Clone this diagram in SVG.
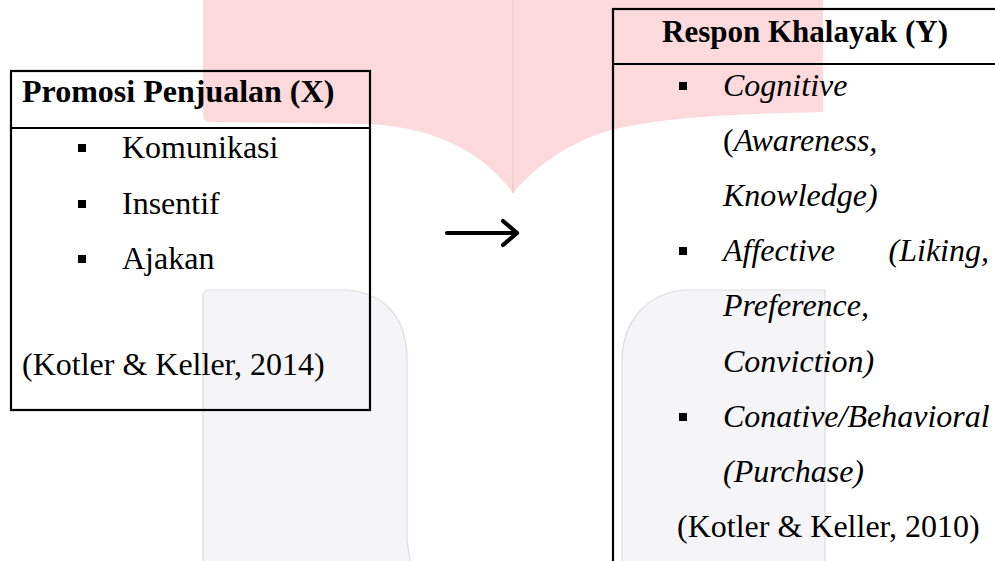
<svg xmlns="http://www.w3.org/2000/svg" width="995" height="561" viewBox="0 0 995 561">
<style>
  .box{fill:none;stroke:#000;stroke-width:2.2}
  .t{font-family:"Liberation Serif","Times New Roman",serif;font-size:32px;fill:#000}
  .b{font-weight:bold}
  .i{font-style:italic}
  .bul{fill:#000}
  .pink{fill:#fcd9da}
  .gray{fill:#f5f5f7;stroke:#dcdcdc;stroke-width:1.2}
  .conn{fill:none;stroke:#000;stroke-width:4.2;stroke-linecap:round}
</style>
<defs>
  <marker id="arr" markerUnits="userSpaceOnUse" markerWidth="22" markerHeight="30" refX="16" refY="14" orient="auto">
    <path d="M2,2 L16,14 L2,26" fill="none" stroke="#000" stroke-width="4.2" stroke-linecap="round" stroke-linejoin="round"/>
  </marker>
</defs>
<rect width="995" height="561" fill="#fff"/>
<g id="watermark">
  <path class="pink" d="M203,0 H823 V112 C740,114 680,116 630,126 C590,132 545,155 513,193 C485,155 440,128 370,124 L211,122 Q203,122 203,114 Z"/>
  <line x1="513" y1="0" x2="513" y2="193" stroke="#e9c6c8" stroke-width="1.2"/>
  <path class="gray" d="M203,561 V296 Q203,290 209,290 H340 C385,290 407,318 407,360 V540 L410,561"/>
  <path class="gray" d="M825,561 V290 H692 C648,290 622,320 622,362 V561"/>
</g>
<g id="node-x">
  <rect class="box" x="11" y="71" width="359" height="339"/>
  <line class="box" x1="11" y1="128" x2="370" y2="128"/>
  <text class="t b" x="22" y="102">Promosi Penjualan (X)</text>
  <rect class="bul" x="78" y="144" width="8" height="8"/>
  <text class="t" x="122" y="158">Komunikasi</text>
  <rect class="bul" x="78" y="200" width="8" height="8"/>
  <text class="t" x="122" y="214">Insentif</text>
  <rect class="bul" x="78" y="255" width="8" height="8"/>
  <text class="t" x="122" y="269">Ajakan</text>
  <text class="t" x="22" y="375">(Kotler &amp; Keller, 2014)</text>
</g>
<g id="node-y">
  <rect class="box" x="613" y="9" width="400" height="600"/>
  <line class="box" x1="613" y1="64" x2="1000" y2="64"/>
  <text class="t b" x="662" y="42" textLength="286" lengthAdjust="spacingAndGlyphs">Respon Khalayak (Y)</text>
  <rect class="bul" x="679" y="82" width="8" height="8"/>
  <text class="t i" x="723" y="96">Cognitive</text>
  <text class="t" x="723" y="151">(<tspan class="i">Awareness,</tspan></text>
  <text class="t i" x="723" y="206">Knowledge)</text>
  <rect class="bul" x="679" y="247" width="8" height="8"/>
  <text class="t i" x="723" y="261">Affective</text>
  <text class="t i" x="989" y="261" text-anchor="end">(Liking,</text>
  <text class="t i" x="723" y="316">Preference,</text>
  <text class="t i" x="723" y="372">Conviction)</text>
  <rect class="bul" x="679" y="413" width="8" height="8"/>
  <text class="t i" x="723" y="427">Conative/Behavioral</text>
  <text class="t i" x="723" y="482">(Purchase)</text>
  <text class="t" x="677" y="537">(Kotler &amp; Keller, 2010)</text>
</g>
<g id="connectors">
  <path class="conn" d="M447,233 L517,233" marker-end="url(#arr)"/>
</g>
</svg>
